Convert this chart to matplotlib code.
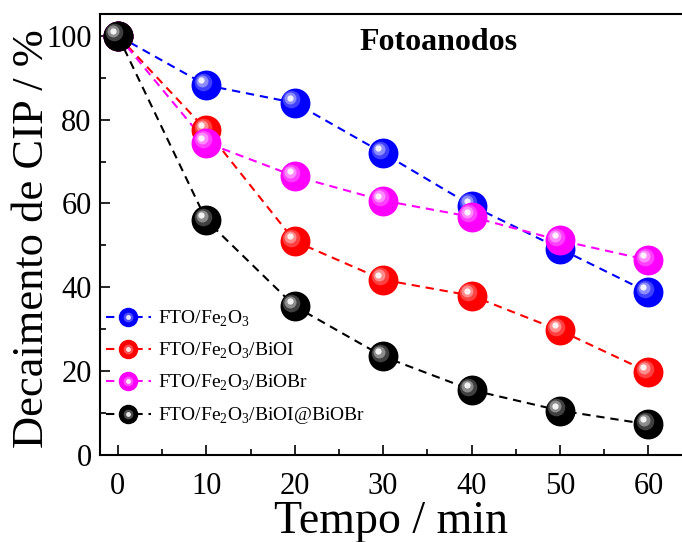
import numpy as np
import matplotlib.pyplot as plt
from matplotlib.lines import Line2D
from matplotlib.legend_handler import HandlerTuple
from matplotlib.transforms import offset_copy
from matplotlib.colors import to_rgb

plt.rcParams['font.family'] = ['Liberation Serif', 'DejaVu Serif']
plt.rcParams['mathtext.fontset'] = 'custom'
plt.rcParams['mathtext.rm'] = 'Liberation Serif'

tempo = [0, 10, 20, 30, 40, 50, 60]
fe2o3 = [100, 88.2, 84.0, 72.0, 59.5, 49.2, 38.8]
biol = [100, 77.5, 51.0, 41.8, 38.0, 29.7, 19.8]
biobr = [100, 74.5, 66.5, 60.7, 56.8, 51.2, 46.5]
biol_biobr = [100, 56.0, 35.5, 23.5, 15.5, 10.6, 7.3]

labels = [r'FTO/Fe$_2$O$_3$', r'FTO/Fe$_2$O$_3$/BiOI',
          r'FTO/Fe$_2$O$_3$/BiOBr', r'FTO/Fe$_2$O$_3$/BiOI@BiOBr']
colors = ['#0000ff', '#ff0000', '#ff00ff', '#000000']
series = [fe2o3, biol, biobr, biol_biobr]


def light(c, f):
    r, g, b = to_rgb(c)
    return (r + (1 - r) * f, g + (1 - g) * f, b + (1 - b) * f)


fig = plt.figure(figsize=(6.82, 5.42), dpi=100)
ax = fig.add_axes([0.1466, 0.1605, 0.8534, 0.8137])

ms = 20.5
# highlight layers: (size factor, lightness, offset in px)
layers = [(0.62, 0.25, 3.5), (0.42, 0.55, 4.5), (0.22, 0.95, 5.0)]
trans = [offset_copy(ax.transData, fig=fig, x=-d, y=d, units='dots')
         for _, _, d in layers]


def sphere(x, y, c, z):
    ax.plot(x, y, 'o', ms=ms, color=c, mec=c, zorder=z)
    for (f, lf, _), t in zip(layers, trans):
        ax.plot(x, y, 'o', ms=ms * f, color=light(c, lf), mec='none',
                transform=t, zorder=z + 0.01)


handles = []
for i, (ys, c) in enumerate(zip(series, colors)):
    ax.plot(tempo, ys, ls=(0, (4, 2.8)), color=c, lw=1.5, zorder=2)
    sphere(tempo, ys, c, 3 + i * 0.1)
    handles.append((
        Line2D([], [], ls=(0, (4, 2.8)), color=c, lw=1.5, marker='o', ms=13, mec=c),
        Line2D([], [], ls='none', marker='o', ms=7, color=light(c, 0.3), mec='none'),
        Line2D([], [], ls='none', marker='o', ms=3.5, color=light(c, 0.9), mec='none'),
    ))

# black ball at t=0 sits on top
sphere(tempo[0], biol_biobr[0], 'black', 10)

ax.set_xlim(-2.03, 63.8)
ax.set_ylim(0, 105.2)
ax.set_xticks(tempo)
ax.set_xticks(np.arange(5, 60, 10), minor=True)
ax.set_yticks(np.arange(0, 101, 20))
ax.set_yticks(np.arange(10, 100, 20), minor=True)
ax.tick_params(which='both', direction='in', labelsize=22, width=1.2)
ax.tick_params(which='major', length=7)
ax.tick_params(axis='x', which='major', pad=12)
ax.tick_params(axis='y', which='major', pad=6)
ax.tick_params(which='minor', length=4)
ax.spines['right'].set_visible(False)
for s in ['left', 'bottom', 'top']:
    ax.spines[s].set_linewidth(1.5)

ax.set_xlabel('Tempo / min', fontsize=33, labelpad=0)
ax.set_ylabel('Decaimento de CIP / %', fontsize=32, va='baseline')
ax.yaxis.set_label_coords(-0.098, 0.49)

ax.text(36.3, 98.3, 'Fotoanodos', fontsize=23, fontweight='bold',
        ha='center', va='center')

ax.legend(handles, labels, handler_map={tuple: HandlerTuple(ndivide=1, pad=0)},
          loc='lower left', bbox_to_anchor=(-0.02, 0.025), frameon=False,
          fontsize=14, handlelength=2.3, labelspacing=0.62, handletextpad=0.4)

plt.savefig('out.png', dpi=100)
plt.close()
